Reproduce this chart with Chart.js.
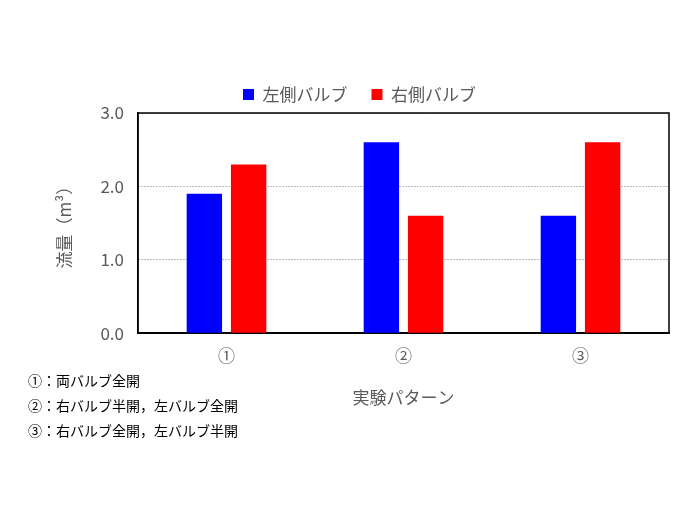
<!DOCTYPE html>
<html>
<head>
<meta charset="utf-8">
<script src="https://cdn.jsdelivr.net/npm/chart.js@4"></script>
<style>
  body { margin: 0; background: #fff; }
  #wrap { width: 700px; height: 525px; }
</style>
</head>
<body>
<div id="wrap"><canvas id="barChart"></canvas></div>
<script>
const categories = ['①', '②', '③'];
const leftValves = [1.9, 2.6, 1.6];
const rightValves = [2.3, 1.6, 2.6];
const notes = ['①：両バルブ全開', '②：右バルブ半開，左バルブ全開', '③：右バルブ全開，左バルブ半開'];

const FONT = "'Noto Sans CJK JP', 'Noto Sans', sans-serif";

// Draw the pattern notes under the chart
const notesPlugin = {
  id: 'notes',
  afterDraw(chart) {
    const ctx = chart.ctx;
    ctx.save();
    ctx.fillStyle = '#000';
    ctx.font = '14px ' + FONT;
    ctx.textBaseline = 'middle';
    notes.forEach((t, i) => ctx.fillText(t, 28, 381 + i * 25));
    ctx.restore();
  }
};

const ctx = document.getElementById('barChart').getContext('2d');
new Chart(ctx, {
  type: 'bar',
  data: {
    labels: categories,
    datasets: [
      { label: '左側バルブ', data: leftValves, backgroundColor: '#0000ff' },
      { label: '右側バルブ', data: rightValves, backgroundColor: '#ff0000' }
    ]
  },
  options: {
    responsive: true,
    maintainAspectRatio: false,
    animation: false,
    categoryPercentage: 0.5,
    barPercentage: 0.8,
    layout: { padding: { left: 50, right: 31, top: 62, bottom: 113 } },
    plugins: {
      legend: {
        labels: { font: { family: FONT, size: 17 }, color: '#595959', boxWidth: 11, boxHeight: 11, padding: 24 }
      },
      tooltip: { enabled: false }
    },
    scales: {
      x: {
        grid: { display: false, drawTicks: false },
        border: { color: '#000', width: 1.5 },
        ticks: { font: { family: FONT, size: 17 }, color: '#595959', padding: 12 },
        title: { display: true, text: '実験パターン', font: { family: FONT, size: 17 }, color: '#595959', padding: { top: 10 } }
      },
      y: {
        min: 0, max: 3,
        ticks: { stepSize: 1, callback: v => v.toFixed(1), font: { family: FONT, size: 17 }, color: '#595959', padding: 14 },
        grid: { color: '#777', drawTicks: false, lineWidth: 1 },
        border: { color: '#000', width: 1.5, dash: [1, 2] },
        title: { display: true, text: '流量（m³）', font: { family: FONT, size: 17 }, color: '#595959', padding: { bottom: 12 } }
      }
    }
  },
  plugins: [notesPlugin, {
    id: 'frame',
    beforeDatasetsDraw(chart) {
      const a = chart.chartArea, c = chart.ctx;
      c.save();
      c.strokeStyle = '#000';
      c.lineWidth = 1.5;
      c.strokeRect(a.left, a.top, a.right - a.left, a.bottom - a.top);
      c.restore();
    }
  }]
});
</script>
</body>
</html>
